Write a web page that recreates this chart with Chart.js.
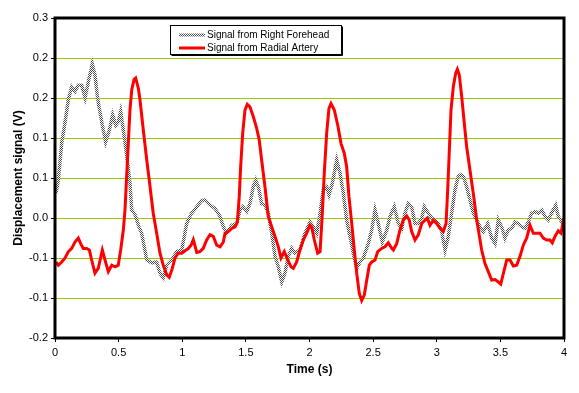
<!DOCTYPE html>
<html lang="en">
<head>
<meta charset="UTF-8">
<title>Displacement signal</title>
<style>
  body{margin:0;background:#fff}
  canvas{display:block}
</style>
</head>
<body>
<canvas id="chart" width="579" height="393"></canvas>
<script src="https://cdn.jsdelivr.net/npm/chart.js"></script>
<script>
// values (time in s, signal in V)
const foreheadTime = [0.008,0.026,0.053,0.079,0.105,0.131,0.157,0.183,0.210,0.236,0.262,0.293,0.314,0.336,0.367,0.398,0.427,0.453,0.477,0.497,0.516,0.537,0.568,0.589,0.603,0.629,0.660,0.681,0.721,0.760,0.799,0.825,0.851,0.878,0.917,0.956,0.996,1.035,1.074,1.114,1.153,1.179,1.218,1.257,1.297,1.323,1.349,1.389,1.428,1.454,1.475,1.506,1.532,1.558,1.577,1.598,1.624,1.650,1.676,1.703,1.729,1.755,1.782,1.807,1.833,1.860,1.886,1.925,1.965,2.004,2.030,2.057,2.083,2.108,2.135,2.153,2.179,2.214,2.240,2.266,2.292,2.318,2.344,2.371,2.397,2.423,2.462,2.489,2.515,2.541,2.572,2.607,2.633,2.666,2.698,2.725,2.750,2.776,2.803,2.829,2.855,2.882,2.902,2.934,2.960,2.986,3.012,3.039,3.051,3.065,3.091,3.117,3.143,3.169,3.188,3.209,3.235,3.261,3.287,3.314,3.340,3.366,3.400,3.432,3.458,3.484,3.510,3.536,3.562,3.589,3.615,3.641,3.668,3.694,3.719,3.746,3.772,3.798,3.825,3.851,3.877,3.908,3.935,3.955,3.982,4.0];
const foreheadSignal = [0.031,0.047,0.094,0.12,0.148,0.164,0.158,0.166,0.166,0.15,0.17,0.1925,0.179,0.148,0.12,0.095,0.11,0.129,0.116,0.12,0.133,0.11,0.0725,0.044,0.01,0.004,-0.011,-0.019,-0.0525,-0.056,-0.055,-0.069,-0.075,-0.059,-0.0525,-0.042,-0.04,-0.007,0.006,0.014,0.022,0.0225,0.016,0.012,0.002,-0.011,-0.019,-0.009,-0.007,0.01,0.014,0.008,0.018,0.039,0.0475,0.039,0.018,0.016,0.006,-0.019,-0.048,-0.061,-0.08,-0.069,-0.048,-0.038,-0.044,-0.04,-0.019,-0.005,-0.011,-0.019,0.006,0.035,0.039,0.029,0.043,0.0725,0.056,0.031,-0.0025,-0.023,-0.044,-0.063,-0.055,-0.05,-0.032,-0.015,0.01,-0.007,-0.03,-0.015,0.002,0.014,-0.007,-0.013,0.006,0.018,0.014,-0.007,-0.007,0,0.014,0.006,0,-0.0025,-0.007,-0.017,-0.0275,-0.04,-0.023,0.006,0.035,0.052,0.054,0.052,0.039,0.0225,0.006,-0.0025,-0.011,-0.017,-0.007,-0.025,-0.032,-0.0025,-0.011,-0.025,-0.015,-0.013,-0.005,-0.007,-0.011,-0.013,-0.005,0.006,0.008,0.006,0.01,0.002,-0.0025,0.008,0.016,0.002,-0.005,-0.005];

const arteryTime = [0.008,0.026,0.053,0.079,0.105,0.131,0.157,0.183,0.202,0.222,0.249,0.270,0.288,0.314,0.340,0.372,0.393,0.419,0.446,0.472,0.497,0.516,0.537,0.550,0.563,0.576,0.589,0.603,0.621,0.634,0.655,0.668,0.694,0.721,0.747,0.772,0.799,0.825,0.851,0.878,0.898,0.922,0.943,0.969,0.996,1.022,1.048,1.069,1.087,1.114,1.139,1.165,1.192,1.218,1.244,1.271,1.297,1.323,1.336,1.362,1.389,1.415,1.433,1.448,1.459,1.475,1.493,1.511,1.532,1.558,1.585,1.605,1.624,1.650,1.676,1.703,1.729,1.755,1.776,1.802,1.829,1.855,1.873,1.899,1.925,1.951,1.978,2.004,2.017,2.038,2.064,2.083,2.101,2.116,2.135,2.153,2.169,2.195,2.222,2.248,2.273,2.292,2.310,2.332,2.352,2.371,2.391,2.410,2.431,2.450,2.470,2.489,2.515,2.536,2.567,2.593,2.619,2.646,2.659,2.685,2.711,2.737,2.764,2.784,2.803,2.829,2.855,2.882,2.908,2.926,2.947,2.973,3.0,3.026,3.051,3.073,3.086,3.099,3.112,3.130,3.149,3.162,3.177,3.196,3.214,3.235,3.261,3.287,3.314,3.327,3.353,3.379,3.405,3.432,3.458,3.484,3.503,3.524,3.550,3.576,3.602,3.628,3.654,3.680,3.707,3.733,3.759,3.786,3.811,3.837,3.864,3.890,3.908,3.929,3.955,3.976,4.0];
const arterySignal = [-0.055,-0.059,-0.055,-0.05,-0.042,-0.038,-0.03,-0.025,-0.032,-0.038,-0.038,-0.04,-0.0525,-0.069,-0.063,-0.04,-0.0525,-0.067,-0.059,-0.061,-0.059,-0.04,-0.015,0.01,0.052,0.093,0.135,0.16,0.173,0.175,0.162,0.1475,0.11,0.0725,0.039,0.006,-0.019,-0.044,-0.059,-0.071,-0.074,-0.063,-0.05,-0.044,-0.044,-0.041,-0.038,-0.034,-0.027,-0.043,-0.042,-0.038,-0.0275,-0.021,-0.023,-0.034,-0.036,-0.03,-0.019,-0.017,-0.013,-0.011,-0.005,0.027,0.064,0.106,0.135,0.142,0.139,0.127,0.112,0.0975,0.0725,0.039,0.002,-0.011,-0.023,-0.036,-0.05,-0.042,-0.0525,-0.061,-0.063,-0.055,-0.04,-0.0275,-0.019,-0.009,-0.011,-0.0275,-0.044,-0.042,0.006,0.056,0.106,0.137,0.143,0.135,0.116,0.093,0.081,0.064,0.027,-0.007,-0.04,-0.069,-0.094,-0.103,-0.096,-0.0775,-0.059,-0.055,-0.0525,-0.042,-0.038,-0.036,-0.031,-0.038,-0.04,-0.032,-0.015,-0.0025,0.0025,-0.0025,-0.017,-0.0275,-0.021,-0.007,-0.0025,0,-0.009,-0.003,-0.007,-0.013,-0.017,-0.007,0.035,0.085,0.135,0.164,0.181,0.186,0.179,0.152,0.1225,0.089,0.06,0.031,-0.0025,-0.015,-0.04,-0.057,-0.067,-0.0775,-0.077,-0.08,-0.0825,-0.069,-0.0525,-0.0525,-0.06,-0.059,-0.048,-0.034,-0.025,-0.009,-0.019,-0.019,-0.019,-0.025,-0.0275,-0.0275,-0.031,-0.023,-0.016,-0.019,0];

const seriesNames = ['Signal from Right Forehead', 'Signal from Radial Artery'];
const yTickValues = [-0.15, -0.1, -0.05, 0, 0.05, 0.1, 0.15, 0.2, 0.25];
const yTickLabels = ['-0.2', '-0.1', '-0.1', '0.0', '0.1', '0.1', '0.2', '0.2', '0.3'];

// checkered grey pen like the original
function checker() {
  const c = document.createElement('canvas');
  c.width = 2; c.height = 2;
  const g = c.getContext('2d');
  g.fillStyle = '#ffffff'; g.fillRect(0, 0, 2, 2);
  g.fillStyle = '#4a4a4a'; g.fillRect(0, 0, 1, 1); g.fillRect(1, 1, 1, 1);
  return g.createPattern(c, 'repeat');
}
const greyPen = checker();

function pairs(xs, ys) { return xs.map((x, i) => ({x: x, y: ys[i]})); }

const FONT = 'Arial, "Liberation Sans", sans-serif';

const frame = {
  id: 'frame',
  afterDatasetsDraw(chart) {
    const {ctx, chartArea: a} = chart;
    ctx.save();
    ctx.strokeStyle = '#000';
    ctx.lineWidth = 3;
    ctx.strokeRect(a.left, a.top, a.right - a.left, a.bottom - a.top);
    ctx.restore();
  },
  afterDraw(chart) {
    const ctx = chart.ctx;
    const bx = 170.5, by = 25.5, bw = 171, bh = 29;
    ctx.save();
    ctx.fillStyle = '#fff';
    ctx.fillRect(bx, by, bw, bh);
    ctx.strokeStyle = '#000';
    ctx.lineWidth = 1;
    ctx.strokeRect(bx, by, bw, bh);
    ctx.beginPath();
    ctx.moveTo(bx + 1, by + bh + 1); ctx.lineTo(bx + bw + 1, by + bh + 1); ctx.lineTo(bx + bw + 1, by + 1);
    ctx.stroke();
    const rows = [{y: 35, pen: greyPen}, {y: 48, pen: '#ff0000'}];
    ctx.font = '10px ' + FONT;
    ctx.textBaseline = 'middle';
    rows.forEach((r, i) => {
      ctx.strokeStyle = r.pen;
      ctx.lineWidth = 3;
      ctx.beginPath(); ctx.moveTo(179, r.y); ctx.lineTo(205, r.y); ctx.stroke();
      ctx.fillStyle = '#000';
      ctx.fillText(seriesNames[i], 207, r.y);
    });
    ctx.restore();
  }
};

new Chart(document.getElementById('chart'), {
  type: 'line',
  data: {
    datasets: [
      {label: seriesNames[0], data: pairs(foreheadTime, foreheadSignal), borderColor: greyPen, borderWidth: 3.5, pointRadius: 0, tension: 0, order: 2},
      {label: seriesNames[1], data: pairs(arteryTime, arterySignal), borderColor: '#ff0000', borderWidth: 3, pointRadius: 0, tension: 0, order: 1}
    ]
  },
  options: {
    responsive: false,
    animation: false,
    layout: {padding: {left: 0, top: 18, right: 15, bottom: 0}},
    plugins: {legend: {display: false}, tooltip: {enabled: false}},
    scales: {
      x: {
        type: 'linear', min: 0, max: 4,
        afterFit(s) { s.height = 55; },
        border: {display: false},
        grid: {drawOnChartArea: false, drawTicks: true, tickLength: 4, tickColor: '#000', lineWidth: 1},
        ticks: {stepSize: 0.5, padding: 4, color: '#000', font: {family: FONT, size: 11}, maxRotation: 0,
                callback: v => String(v)},
        title: {display: true, text: 'Time (s)', color: '#000', font: {family: FONT, size: 12, weight: 'bold'}, padding: {top: 0, bottom: 16}}
      },
      y: {
        min: -0.15, max: 0.25,
        afterFit(s) { s.width = 55; },
        border: {display: false},
        grid: {color: '#99cc00', lineWidth: 1, tickLength: 4, tickColor: '#000'},
        ticks: {stepSize: 0.05, padding: 3, color: '#000', font: {family: FONT, size: 11},
                callback: v => {
                  let best = 0;
                  yTickValues.forEach((t, i) => { if (Math.abs(t - v) < Math.abs(yTickValues[best] - v)) best = i; });
                  return yTickLabels[best];
                }},
        title: {display: true, text: 'Displacement signal (V)', color: '#000', font: {family: FONT, size: 12, weight: 'bold'}, padding: {top: 11, bottom: 0}}
      }
    }
  },
  plugins: [frame]
});
</script>
</body>
</html>
